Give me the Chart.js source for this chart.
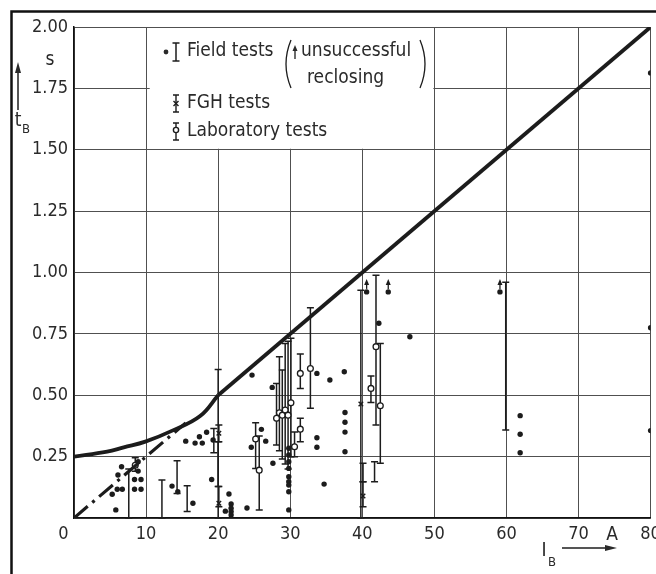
<!DOCTYPE html>
<html>
<head>
<meta charset="utf-8">
<script src="https://cdn.jsdelivr.net/npm/chart.js@4.4.0/dist/chart.umd.min.js"></script>
<style>
  html, body { margin: 0; padding: 0; background: #fff; }
  #wrap { width: 656px; height: 574px; }
</style>
</head>
<body>
<div id="wrap"><canvas id="chart" width="656" height="574"></canvas></div>
<script>
    // boundary curves  [I_B (A), t_B (s)]
    const boundaryCurve = [[0, 0.25], [4.6, 0.27], [6.9, 0.288], [9.9, 0.311], [13.8, 0.358], [17.5, 0.415], [20, 0.5]];
    const boundaryLine = [[20, 0.5], [80, 2.0]];
    const dashDotLine = [[0, 0], [15.5, 0.3875]];

    // field tests, single points
    const fieldDots = [
        [5.8, 0.033], [5.3, 0.097], [6.0, 0.117], [6.7, 0.117], [6.1, 0.175], [6.6, 0.209],
        [8.9, 0.229], [8.9, 0.191], [8.4, 0.157], [9.3, 0.157], [8.4, 0.117], [9.3, 0.117],
        [13.6, 0.130], [14.4, 0.107], [16.5, 0.06],
        [15.5, 0.313], [16.8, 0.305], [17.4, 0.331], [17.8, 0.305], [18.4, 0.349], [19.3, 0.318], [19.1, 0.157],
        [21.5, 0.098], [21.0, 0.028], [21.8, 0.057], [21.8, 0.04], [21.8, 0.026], [21.8, 0.012], [24.0, 0.041],
        [24.6, 0.288], [26.0, 0.361], [26.6, 0.313], [27.6, 0.223], [27.5, 0.532], [24.7, 0.582],
        [29.8, 0.284], [29.8, 0.257], [29.8, 0.229], [29.8, 0.202], [29.8, 0.168], [29.8, 0.148],
        [29.8, 0.134], [29.8, 0.107], [29.8, 0.033],
        [33.7, 0.589], [35.5, 0.562], [37.5, 0.596], [33.7, 0.327], [33.7, 0.288],
        [37.6, 0.43], [37.6, 0.39], [37.6, 0.35], [37.6, 0.27], [34.7, 0.138],
        [42.3, 0.793], [46.6, 0.738],
        [61.9, 0.417], [61.9, 0.341], [61.9, 0.266],
        [80, 1.813], [80, 0.775], [80, 0.356]
    ];
    // field tests, unsuccessful reclosing (arrow up)
    const reclosingDots = [[40.6, 0.921], [43.6, 0.921], [59.1, 0.921]];

    // ranges [x, low, high] / [x, low, high, mid]
    const fieldBars = [
        [7.6, 0, 0.2], [12.2, 0, 0.155], [14.3, 0.1, 0.233], [15.7, 0.026, 0.131], [19.4, 0.266, 0.365],
        [20, 0, 0.605], [20, 0.128, 0.311], [40.1, 0.148, 0.223], [41.7, 0.148, 0.229], [59.9, 0.358, 0.96]
    ];
    const fghBars = [
        [20.1, 0.311, 0.379, 0.345], [20.1, 0.046, 0.128, 0.06],
        [39.8, 0, 0.928, 0.464], [40.1, 0.046, 0.148, 0.09]
    ];
    const labBars = [
        [8.5, 0.19, 0.245, 0.215], [25.2, 0.202, 0.388, 0.322], [25.7, 0.033, 0.334, 0.195],
        [28.1, 0.297, 0.548, 0.406], [28.5, 0.274, 0.657, 0.429], [28.9, 0.24, 0.603, 0.419],
        [29.3, 0.22, 0.711, 0.44], [29.7, 0.2, 0.72, 0.419], [30.1, 0.25, 0.732, 0.469],
        [30.6, 0.25, 0.35, 0.29], [31.4, 0.528, 0.668, 0.589], [31.4, 0.311, 0.406, 0.362],
        [32.8, 0.447, 0.856, 0.609], [41.2, 0.47, 0.578, 0.528], [41.9, 0.379, 0.989, 0.698],
        [42.5, 0.223, 0.711, 0.457]
    ];

    const FONT = "'DejaVu Sans Condensed', 'DejaVu Sans', sans-serif";
    const INK = '#1c1c1c';
    const TXT = '#2a2a2a';
    const toXY = arr => arr.map(p => ({ x: p[0], y: p[1] }));
    const px1 = { getPixelForValue: v => v };

    function drawBar(ctx, xs, ys, b, cap) {
        const px = xs.getPixelForValue(b[0]);
        const lo = ys.getPixelForValue(b[1]);
        const hi = ys.getPixelForValue(b[2]);
        ctx.beginPath();
        ctx.moveTo(px, lo); ctx.lineTo(px, hi);
        ctx.moveTo(px - cap, lo); ctx.lineTo(px + cap, lo);
        ctx.moveTo(px - cap, hi); ctx.lineTo(px + cap, hi);
        ctx.stroke();
    }

    function arrowUp(ctx, x, yFrom, yTip, head, half) {
        ctx.beginPath();
        ctx.moveTo(x, yFrom); ctx.lineTo(x, yTip + head);
        ctx.stroke();
        ctx.beginPath();
        ctx.moveTo(x, yTip); ctx.lineTo(x - half, yTip + head); ctx.lineTo(x + half, yTip + head);
        ctx.closePath(); ctx.fill();
    }

    const extras = {
        id: 'extras',
        beforeDraw(chart) {
            const ctx = chart.ctx;
            ctx.save();
            ctx.strokeStyle = '#111';
            ctx.lineWidth = 2.5;
            ctx.beginPath();
            ctx.moveTo(11.5, 574); ctx.lineTo(11.5, 11.5); ctx.lineTo(656, 11.5);
            ctx.stroke();
            ctx.restore();
        },
        beforeDatasetsDraw(chart) {
            const ctx = chart.ctx;
            const xs = chart.scales.x, ys = chart.scales.y;
            ctx.save();
            // legend box hides the grid
            const bl = xs.getPixelForValue(10.5), br = xs.getPixelForValue(50) - 1;
            const bt = chart.chartArea.top + 1, bb = ys.getPixelForValue(1.5) - 1;
            ctx.fillStyle = '#fff';
            ctx.fillRect(bl, bt, br - bl, bb - bt);

            ctx.strokeStyle = INK;
            ctx.lineWidth = 1.5;
            fieldBars.forEach(b => drawBar(ctx, xs, ys, b, 3.5));
            fghBars.forEach(b => drawBar(ctx, xs, ys, b, 3.5));
            labBars.forEach(b => drawBar(ctx, xs, ys, b, 3.5));

            ctx.fillStyle = INK;
            ctx.lineWidth = 1.3;
            reclosingDots.forEach(p => {
                const px = xs.getPixelForValue(p[0]);
                const py = ys.getPixelForValue(p[1]);
                arrowUp(ctx, px, py - 3, py - 13, 6, 2.5);
            });
            ctx.restore();
        },
        afterDraw(chart) {
            const ctx = chart.ctx;
            ctx.save();
            ctx.fillStyle = TXT;
            ctx.strokeStyle = INK;
            ctx.textBaseline = 'middle';
            ctx.textAlign = 'left';

            // legend
            ctx.font = '19px ' + FONT;
            ctx.lineWidth = 1.5;
            ctx.beginPath(); ctx.arc(166, 52, 2.4, 0, Math.PI * 2); ctx.fill();
            drawBar(ctx, px1, px1, [176, 61, 43], 3.5);
            ctx.fillText('Field tests', 187, 51);
            ctx.lineWidth = 1.3;
            ctx.beginPath();
            ctx.moveTo(291, 40); ctx.quadraticCurveTo(281, 64, 291, 88);
            ctx.moveTo(420, 40); ctx.quadraticCurveTo(430, 64, 420, 88);
            ctx.stroke();
            ctx.lineWidth = 1.3;
            arrowUp(ctx, 295, 59, 45, 6, 2.5);
            ctx.fillText('unsuccessful', 301, 51);
            ctx.fillText('reclosing', 307, 78);

            ctx.lineWidth = 1.4;
            drawBar(ctx, px1, px1, [176, 112, 95], 3);
            ctx.beginPath();
            ctx.moveTo(173.5, 101); ctx.lineTo(178.5, 106); ctx.moveTo(178.5, 101); ctx.lineTo(173.5, 106);
            ctx.stroke();
            ctx.fillText('FGH tests', 187, 103);

            drawBar(ctx, px1, px1, [176, 140, 123], 3);
            ctx.fillStyle = '#fff';
            ctx.beginPath(); ctx.arc(176, 130, 2.6, 0, Math.PI * 2); ctx.fill(); ctx.stroke();
            ctx.fillStyle = TXT;
            ctx.fillText('Laboratory tests', 187, 131);

            // axis titles
            ctx.textAlign = 'center';
            ctx.fillText('s', 50, 60);
            ctx.fillText('A', 612, 535);
            ctx.lineWidth = 1.5;
            arrowUp(ctx, 18, 110, 62, 11, 3);
            ctx.fillText('t', 18, 121);
            ctx.fillText('I', 544, 551);
            ctx.font = '13px ' + FONT;
            ctx.fillText('B', 26, 130);
            ctx.fillText('B', 552, 563);
            ctx.beginPath();
            ctx.moveTo(562, 548); ctx.lineTo(606, 548); ctx.stroke();
            ctx.beginPath();
            ctx.moveTo(617, 548); ctx.lineTo(605, 545); ctx.lineTo(605, 551); ctx.closePath(); ctx.fill();
            ctx.restore();
        }
    };

    const ctx = document.getElementById('chart').getContext('2d');
    new Chart(ctx, {
        type: 'scatter',
        data: {
            datasets: [
                {
                    type: 'line',
                    data: toXY(boundaryCurve),
                    borderColor: INK,
                    borderWidth: 3.8,
                    pointRadius: 0,
                    tension: 0.4,
                    fill: false
                },
                {
                    type: 'line',
                    data: toXY(boundaryLine),
                    borderColor: INK,
                    borderWidth: 3.8,
                    pointRadius: 0,
                    fill: false
                },
                {
                    type: 'line',
                    data: toXY(dashDotLine),
                    borderColor: INK,
                    borderWidth: 3.2,
                    borderDash: [18, 6, 3, 6],
                    pointRadius: 0,
                    fill: false
                },
                {
                    data: toXY(fieldDots.concat(reclosingDots)),
                    backgroundColor: INK,
                    borderColor: INK,
                    pointRadius: 2.7,
                    borderWidth: 0
                },
                {
                    data: fghBars.map(b => ({ x: b[0], y: b[3] })),
                    pointStyle: 'crossRot',
                    borderColor: INK,
                    borderWidth: 1.4,
                    pointRadius: 3.2
                },
                {
                    data: labBars.map(b => ({ x: b[0], y: b[3] })),
                    backgroundColor: '#fff',
                    borderColor: INK,
                    borderWidth: 1.3,
                    pointRadius: 2.9
                }
            ]
        },
        options: {
            responsive: false,
            animation: false,
            events: [],
            layout: { padding: { top: 27, right: 4, left: 0, bottom: 0 } },
            plugins: {
                legend: { display: false },
                tooltip: { enabled: false }
            },
            scales: {
                x: {
                    type: 'linear',
                    min: 0,
                    max: 80,
                    afterFit: s => { s.height = 56; s.paddingLeft = 0; s.paddingRight = 0; },
                    ticks: {
                        stepSize: 10,
                        padding: 6,
                        color: TXT,
                        font: { family: FONT, size: 18 },
                        maxRotation: 0,
                        callback: v => v === 0 ? '0\u2002\u2002 ' : String(v)
                    },
                    grid: { color: '#505050', lineWidth: 1, drawTicks: false },
                    border: { color: '#111', width: 1.5 }
                },
                y: {
                    min: 0,
                    max: 2,
                    afterFit: s => { s.width = 74; s.paddingTop = 0; s.paddingBottom = 0; },
                    ticks: {
                        stepSize: 0.25,
                        padding: 6,
                        color: TXT,
                        font: { family: FONT, size: 18 },
                        callback: v => v === 0 ? '' : v.toFixed(2)
                    },
                    grid: { color: '#505050', lineWidth: 1, drawTicks: false },
                    border: { color: '#111', width: 1.5 }
                }
            }
        },
        plugins: [extras]
    });
</script>
</body>
</html>
